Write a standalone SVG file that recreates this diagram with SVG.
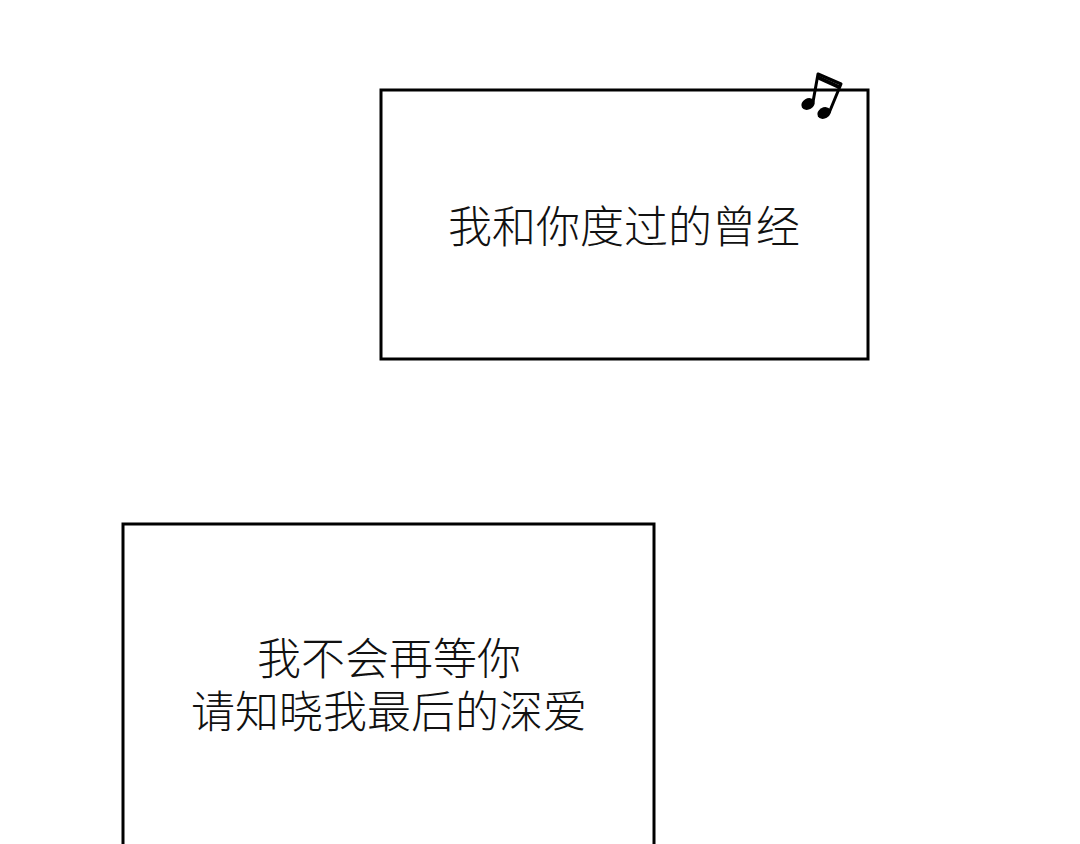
<svg xmlns="http://www.w3.org/2000/svg" width="1080" height="844" viewBox="0 0 1080 844">
<style>
.box{fill:#fff;stroke:#000;stroke-width:3}
.t{font-family:"Noto Sans CJK SC",sans-serif;font-size:44px;font-weight:300;fill:#111;text-anchor:middle}
</style>
<rect width="1080" height="844" fill="#fff"/>
<g id="box1">
<rect class="box" x="381" y="90" width="487" height="269"/>
<text class="t" x="624" y="243">我和你度过的曾经</text>
</g>
<g id="note">
<path d="M813,102 L818,74 L841,84 L829,113" fill="none" stroke="#000" stroke-width="3" stroke-linejoin="round"/>
<path d="M817,77 L839,87" stroke="#000" stroke-width="4"/>
<ellipse cx="808" cy="104" rx="7" ry="5.5" transform="rotate(-30 808 104)"/>
<ellipse cx="824" cy="113" rx="7" ry="5.5" transform="rotate(-30 824 113)"/>
</g>
<g id="box2">
<rect class="box" x="123" y="524" width="531" height="330"/>
<text class="t" x="389" y="675">我不会再等你</text>
<text class="t" x="389" y="728">请知晓我最后的深爱</text>
</g>
<g id="connectors"/>
</svg>
